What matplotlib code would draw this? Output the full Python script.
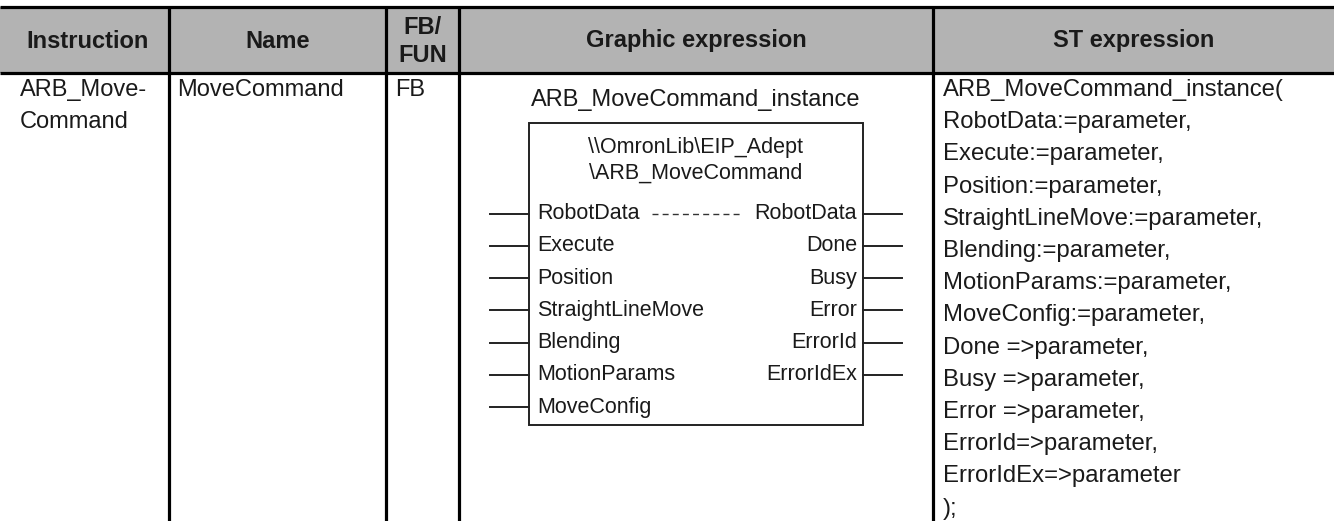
import matplotlib
matplotlib.use("Agg")
import matplotlib.pyplot as plt
from matplotlib.patches import Rectangle

# ---- data ----
headers = ["Instruction", "Name", "FB/\nFUN", "Graphic expression", "ST expression"]
instruction_lines = ["ARB_Move-", "Command"]
name_text = "MoveCommand"
fbfun_text = "FB"
instance_name = "ARB_MoveCommand_instance"
lib_lines = ["\\\\OmronLib\\EIP_Adept", "\\ARB_MoveCommand"]
inputs = ["RobotData", "Execute", "Position", "StraightLineMove", "Blending",
          "MotionParams", "MoveConfig"]
outputs = ["RobotData", "Done", "Busy", "Error", "ErrorId", "ErrorIdEx"]
st_lines = ["ARB_MoveCommand_instance(", "RobotData:=parameter,", "Execute:=parameter,",
            "Position:=parameter,", "StraightLineMove:=parameter,", "Blending:=parameter,",
            "MotionParams:=parameter,", "MoveConfig:=parameter,", "Done =>parameter,",
            "Busy =>parameter,", "Error =>parameter,", "ErrorId=>parameter,",
            "ErrorIdEx=>parameter", ");"]

# ---- layout (pixel coordinates) ----
W, H = 1334, 521
col_edges = [0, 169, 386, 459, 933, W]
top_y, head_bot = 7, 73

fig = plt.figure(figsize=(W / 100, H / 100), dpi=100)
ax = fig.add_axes([0, 0, 1, 1])
ax.set_xlim(0, W)
ax.set_ylim(H, 0)
ax.axis("off")

FONT = "Liberation Sans"
TXT = "#1a1a1a"
LW = 2.3

# header
ax.add_patch(Rectangle((0, top_y), W, head_bot - top_y, facecolor="#b3b3b3", edgecolor="none"))
ax.plot([0, W], [top_y, top_y], color="black", lw=LW, solid_capstyle="butt")
ax.plot([0, W], [head_bot, head_bot], color="black", lw=LW, solid_capstyle="butt")
for x in col_edges[1:-1]:
    ax.plot([x, x], [top_y, H], color="black", lw=LW, solid_capstyle="butt")

hc = [(col_edges[i] + col_edges[i + 1]) / 2 for i in range(5)]
hc[0] = 88
for i, h in enumerate(headers):
    if "\n" in h:
        a, b = h.split("\n")
        ax.text(hc[i], 28, a, ha="center", va="center", fontsize=17, fontweight="bold", family=FONT, color=TXT)
        ax.text(hc[i], 55, b, ha="center", va="center", fontsize=17, fontweight="bold", family=FONT, color=TXT)
    else:
        ax.text(hc[i], 41, h, ha="center", va="center", fontsize=17, fontweight="bold", family=FONT, color=TXT)

# body text
ROW0, DY = 90, 32.2
for k, s in enumerate(instruction_lines):
    ax.text(20, ROW0 + k * DY, s, ha="left", va="center", fontsize=17, family=FONT, color=TXT)
ax.text(177, ROW0, name_text, ha="left", va="center", fontsize=17, family=FONT, color=TXT)
ax.text(395, ROW0, fbfun_text, ha="left", va="center", fontsize=17, family=FONT, color=TXT)
for k, s in enumerate(st_lines):
    ax.text(943, ROW0 + k * DY, s, ha="left", va="center", fontsize=17.2, family=FONT, color=TXT)

# graphic expression
bx0, bx1, by0, by1 = 529, 863, 123, 425
gc = (bx0 + bx1) / 2
ax.text(gc, 100, instance_name, ha="center", va="center", fontsize=17, family=FONT, color=TXT)
ax.add_patch(Rectangle((bx0, by0), bx1 - bx0, by1 - by0, facecolor="none", edgecolor="#222222", lw=1.4))
for k, s in enumerate(lib_lines):
    ax.text(gc, 148 + k * 25, s, ha="center", va="center", fontsize=15.5, family=FONT, color=TXT)
PIN0, PDY = 213.5, 32.3
for k, s in enumerate(inputs):
    y = PIN0 + k * PDY
    ax.plot([490, bx0], [y, y], color="#222222", lw=1.4)
    ax.text(bx0 + 8, y, s, ha="left", va="center", fontsize=15.5, family=FONT, color=TXT)
for k, s in enumerate(outputs):
    y = PIN0 + k * PDY
    ax.plot([bx1, 902], [y, y], color="#222222", lw=1.4)
    ax.text(bx1 - 6, y, s, ha="right", va="center", fontsize=15.5, family=FONT, color=TXT)
ax.plot([652, 741], [PIN0, PIN0], color="#333333", lw=1.0, linestyle=(0, (4.3, 3.0)))

fig.savefig("out.png", dpi=100)
